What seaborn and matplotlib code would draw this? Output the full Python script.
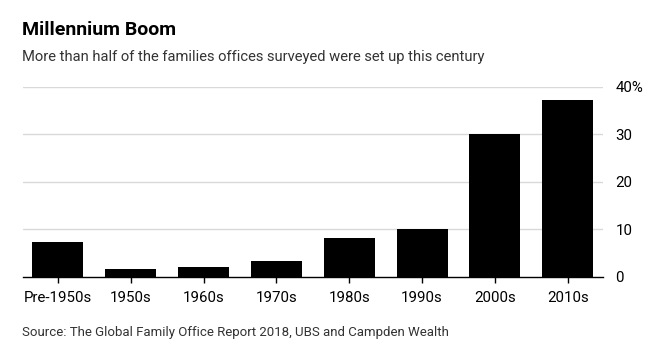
import matplotlib
matplotlib.use("Agg")
import matplotlib.pyplot as plt
import seaborn as sns
import pandas as pd

categories = ["Pre-1950s", "1950s", "1960s", "1970s", "1980s", "1990s", "2000s", "2010s"]
values = [7.4, 1.7, 2.1, 3.4, 8.2, 10.0, 30.1, 37.2]
ytick_vals = [0, 10, 20, 30, 40]
ytick_labels = ["0", "10", "20", "30", "40%"]

sns.set_theme(style="white")
plt.rcParams["font.family"] = ["Roboto", "DejaVu Sans"]

df = pd.DataFrame({"decade": categories, "share": values})

fig = plt.figure(figsize=(6.51, 3.6), dpi=100)
ax = fig.add_axes([0.035, 0.2306, 0.891, 0.5278])

sns.barplot(data=df, x="decade", y="share", order=categories, color="black",
            width=0.7, saturation=1, ax=ax, edgecolor="none")

ax.set_xlim(-0.48, 7.48)
ax.set_ylim(0, 40)
ax.set_xlabel("")
ax.set_ylabel("")
ax.yaxis.tick_right()
ax.set_yticks(ytick_vals)
ax.set_yticklabels(ytick_labels)
for y in ytick_vals[1:]:
    ax.axhline(y, color="#d9d9d9", lw=1, zorder=0)
ax.set_axisbelow(True)
for s in ["top", "right", "left"]:
    ax.spines[s].set_visible(False)
ax.spines["bottom"].set_color("black")
ax.spines["bottom"].set_linewidth(1)
ax.tick_params(axis="x", length=4, width=1, color="black", pad=6, labelsize=10.8, labelcolor="black", bottom=True)
ax.tick_params(axis="y", length=0, pad=9, labelsize=10.8, labelcolor="black")

fig.text(0.034, 0.918, "Millennium Boom", fontsize=14, fontweight="bold", ha="left", va="center", color="black")
fig.text(0.034, 0.842, "More than half of the families offices surveyed were set up this century",
         fontsize=10.6, ha="left", va="center", color="#333333")
fig.text(0.034, 0.076, "Source: The Global Family Office Report 2018, UBS and Campden Wealth",
         fontsize=9.5, ha="left", va="center", color="#333333")

fig.savefig("out.png", dpi=100)
